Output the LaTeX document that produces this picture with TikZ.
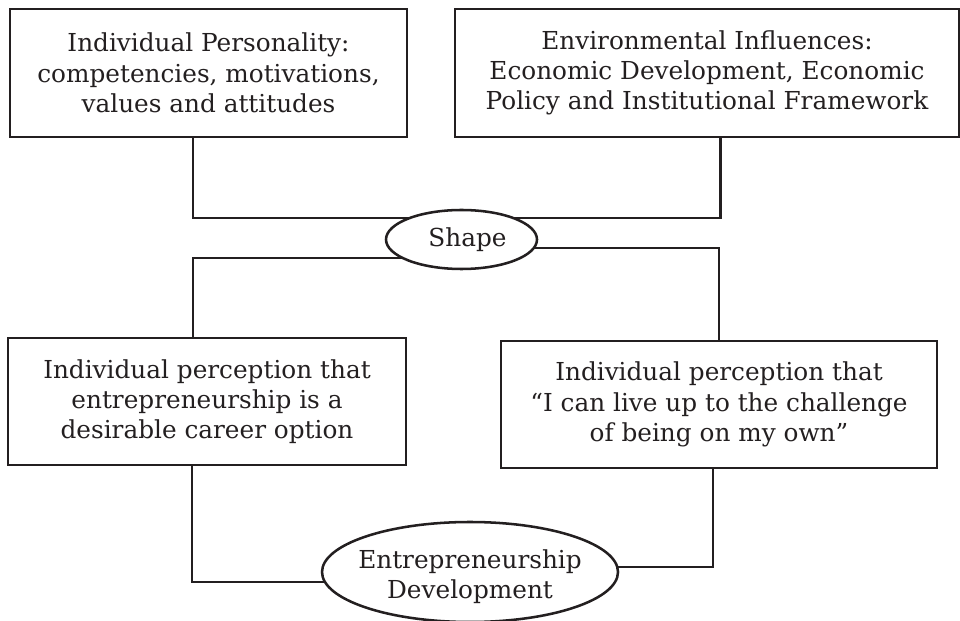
\documentclass[tikz,border=0pt]{standalone}
\usepackage{fontspec}
\setmainfont{DejaVu Serif}
\usepackage{xcolor}
\usepackage{tikz}
\usetikzlibrary{shapes.geometric,backgrounds}

\definecolor{ink}{HTML}{231F20}

\tikzset{
  block/.style={draw=ink, line width=1.8pt, text=ink, align=center,
    inner sep=0pt, minimum height=3.2cm,
    font=\fontsize{17.6}{21.5}\selectfont},
  bubble/.style={draw=ink, fill=white, line width=1.8pt, ellipse, inner sep=0pt},
  bubbletext/.style={text=ink, align=center, font=\fontsize{17.6}{21.5}\selectfont},
  link/.style={draw=ink, line width=1.8pt}
}

\begin{document}
\begin{tikzpicture}

\useasboundingbox (0,0) rectangle (24,15.5);

\node[block, minimum width=9.925cm] (personality) at (5.2125,13.675)
  {Individual Personality:\\ competencies, motivations,\\ values and attitudes};
\node[block, minimum width=12.6cm] (environment) at (17.675,13.675)
  {Environmental Influences:\\ Economic Development, Economic\\ Policy and Institutional Framework};

\node[bubble, minimum width=3.775cm, minimum height=1.475cm,
  label={[bubbletext, xshift=0.15cm]center:Shape}] (shape) at (11.5375,9.5125) {};

\node[block, minimum width=9.95cm, minimum height=3.175cm] (desirable) at (5.175,5.4625)
  {Individual perception that\\ entrepreneurship is a\\ desirable career option};
\node[block, minimum width=10.9cm, minimum height=3.175cm] (ownself) at (17.975,5.3875)
  {Individual perception that\\ “I can live up to the challenge\\ of being on my own”};

\node[bubble, minimum width=7.4cm, minimum height=2.5cm,
  label={[bubbletext, yshift=-0.12cm]center:Entrepreneurship\\ Development}] (development) at (11.75,1.2) {};

% connectors behind the ellipses
\begin{pgfonlayer}{background}
\draw[link] ([xshift=-0.39cm]personality.south) |- ([yshift=0.54cm]shape.center)
  -| ([xshift=0.34cm]environment.south);
\draw[link] ([yshift=-0.46cm]shape.center) -| ([xshift=-0.35cm]desirable.north);
\draw[link] ([yshift=-0.21cm]shape.center) -| (ownself.north);
\draw[link] ([xshift=-0.375cm]desirable.south) |- ([yshift=-0.25cm]development.center);
\draw[link] ([xshift=-0.15cm]ownself.south) |- ([yshift=0.125cm]development.center);
\end{pgfonlayer}

\end{tikzpicture}
\end{document}
